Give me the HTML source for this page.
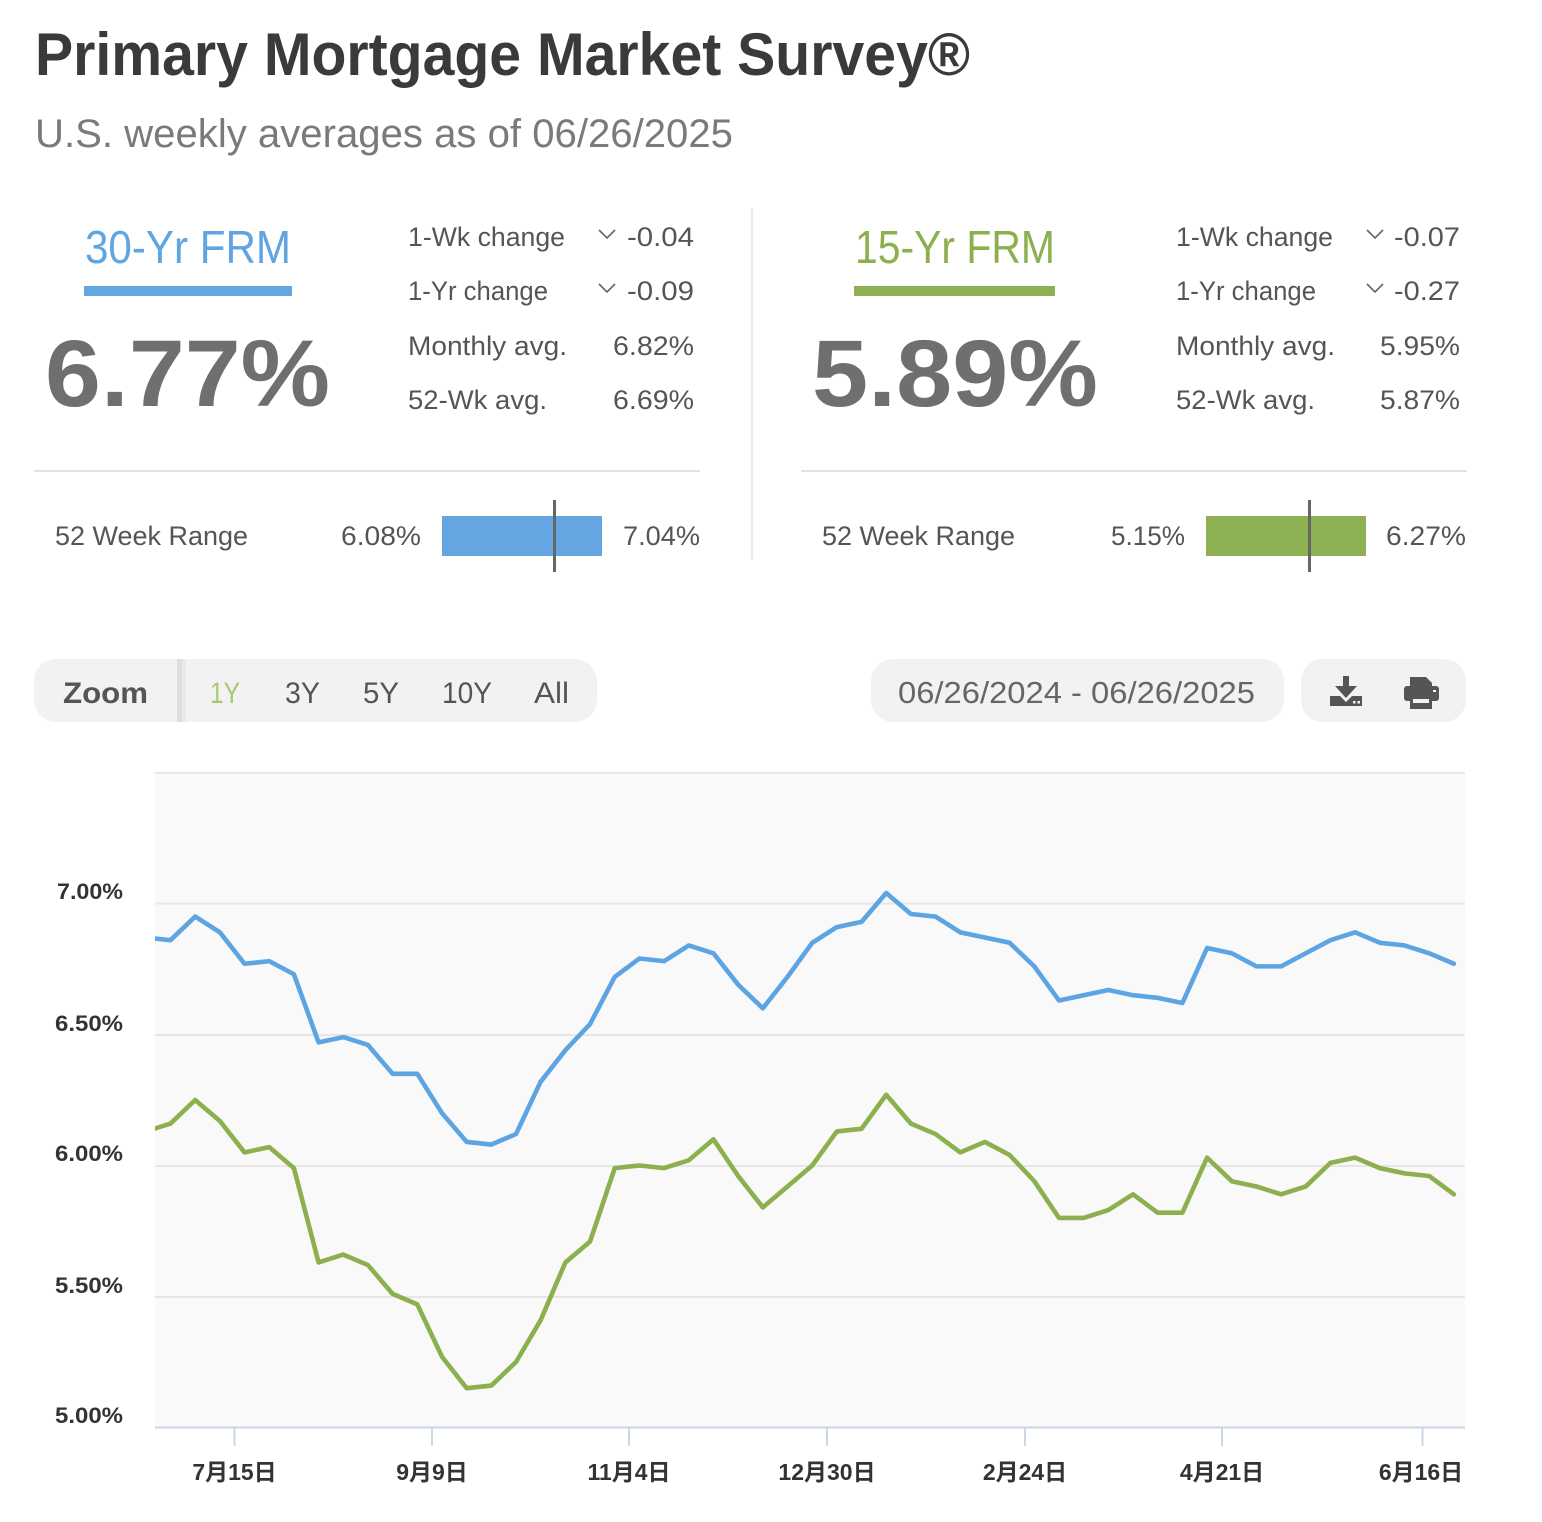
<!DOCTYPE html>
<html>
<head>
<meta charset="utf-8">
<style>
html,body{margin:0;padding:0;background:#fff;}
svg{display:block;}
text{font-family:"Liberation Sans","Noto Sans CJK SC",sans-serif;}
</style>
</head>
<body>
<svg width="1542" height="1522" viewBox="0 0 1542 1522" xmlns="http://www.w3.org/2000/svg">
<rect x="0" y="0" width="1542" height="1522" fill="#ffffff"/>

<!-- Title -->
<text x="35" y="75" font-size="60" font-weight="bold" fill="#3a3a3a" textLength="935" lengthAdjust="spacingAndGlyphs">Primary Mortgage Market Survey®</text>
<text x="35" y="147" font-size="40" fill="#7a7a7a" textLength="698" lengthAdjust="spacingAndGlyphs">U.S. weekly averages as of 06/26/2025</text>

<!-- Left panel: 30-Yr -->
<text x="85" y="263" font-size="46" fill="#5ea5e2" textLength="206" lengthAdjust="spacingAndGlyphs">30-Yr FRM</text>
<rect x="84" y="286" width="208" height="10" fill="#63a6e2"/>
<text x="45" y="406" font-size="95" font-weight="bold" fill="#6f6f6f" textLength="285" lengthAdjust="spacingAndGlyphs">6.77%</text>

<g font-size="27" fill="#555">
<text x="408" y="246" textLength="157" lengthAdjust="spacingAndGlyphs">1-Wk change</text>
<text x="408" y="300" textLength="140" lengthAdjust="spacingAndGlyphs">1-Yr change</text>
<text x="408" y="355" textLength="159" lengthAdjust="spacingAndGlyphs">Monthly avg.</text>
<text x="408" y="409" textLength="139" lengthAdjust="spacingAndGlyphs">52-Wk avg.</text>
<text x="627" y="246" textLength="67" lengthAdjust="spacingAndGlyphs">-0.04</text>
<text x="627" y="300" textLength="67" lengthAdjust="spacingAndGlyphs">-0.09</text>
<text x="613" y="355" textLength="81" lengthAdjust="spacingAndGlyphs">6.82%</text>
<text x="613" y="409" textLength="81" lengthAdjust="spacingAndGlyphs">6.69%</text>
</g>
<polyline points="599,230 607,238 615,230" fill="none" stroke="#666" stroke-width="1.6"/>
<polyline points="599,284 607,292 615,284" fill="none" stroke="#666" stroke-width="1.6"/>

<rect x="34" y="470" width="666" height="2" fill="#e2e2e2"/>

<g font-size="27" fill="#555">
<text x="55" y="545" textLength="193" lengthAdjust="spacingAndGlyphs">52 Week Range</text>
<text x="341" y="545" textLength="80" lengthAdjust="spacingAndGlyphs">6.08%</text>
<text x="623" y="545" textLength="77" lengthAdjust="spacingAndGlyphs">7.04%</text>
</g>
<rect x="442" y="516" width="160" height="40" fill="#63a6e2"/>
<rect x="553" y="500" width="3" height="72" fill="#666"/>

<!-- separator -->
<rect x="751" y="208" width="2" height="352" fill="#ebebeb"/>

<!-- Right panel: 15-Yr -->
<text x="855" y="263" font-size="46" fill="#8cb04d" textLength="200" lengthAdjust="spacingAndGlyphs">15-Yr FRM</text>
<rect x="854" y="286" width="201" height="10" fill="#8db052"/>
<text x="812" y="406" font-size="95" font-weight="bold" fill="#6f6f6f" textLength="286" lengthAdjust="spacingAndGlyphs">5.89%</text>

<g font-size="27" fill="#555">
<text x="1176" y="246" textLength="157" lengthAdjust="spacingAndGlyphs">1-Wk change</text>
<text x="1176" y="300" textLength="140" lengthAdjust="spacingAndGlyphs">1-Yr change</text>
<text x="1176" y="355" textLength="159" lengthAdjust="spacingAndGlyphs">Monthly avg.</text>
<text x="1176" y="409" textLength="139" lengthAdjust="spacingAndGlyphs">52-Wk avg.</text>
<text x="1394" y="246" textLength="66" lengthAdjust="spacingAndGlyphs">-0.07</text>
<text x="1394" y="300" textLength="66" lengthAdjust="spacingAndGlyphs">-0.27</text>
<text x="1380" y="355" textLength="80" lengthAdjust="spacingAndGlyphs">5.95%</text>
<text x="1380" y="409" textLength="80" lengthAdjust="spacingAndGlyphs">5.87%</text>
</g>
<polyline points="1367,230 1375,238 1383,230" fill="none" stroke="#666" stroke-width="1.6"/>
<polyline points="1367,284 1375,292 1383,284" fill="none" stroke="#666" stroke-width="1.6"/>

<rect x="801" y="470" width="666" height="2" fill="#e2e2e2"/>

<g font-size="27" fill="#555">
<text x="822" y="545" textLength="193" lengthAdjust="spacingAndGlyphs">52 Week Range</text>
<text x="1111" y="545" textLength="74" lengthAdjust="spacingAndGlyphs">5.15%</text>
<text x="1386" y="545" textLength="80" lengthAdjust="spacingAndGlyphs">6.27%</text>
</g>
<rect x="1206" y="516" width="160" height="40" fill="#8db052"/>
<rect x="1308" y="500" width="3" height="72" fill="#666"/>

<!-- Zoom bar -->
<rect x="34" y="659" width="563" height="63" rx="22" fill="#f2f2f2"/>
<rect x="177" y="659" width="5" height="63" fill="#dedede"/>
<rect x="182" y="659" width="4" height="63" fill="#e9e9e9"/>
<text x="63" y="703" font-size="30" font-weight="bold" fill="#555" textLength="85" lengthAdjust="spacingAndGlyphs">Zoom</text>
<g font-size="30" fill="#555">
<text x="210" y="703" fill="#a9c872" textLength="30" lengthAdjust="spacingAndGlyphs">1Y</text>
<text x="285" y="703" textLength="35" lengthAdjust="spacingAndGlyphs">3Y</text>
<text x="363" y="703" textLength="36" lengthAdjust="spacingAndGlyphs">5Y</text>
<text x="442" y="703" textLength="50" lengthAdjust="spacingAndGlyphs">10Y</text>
<text x="534" y="703" textLength="35" lengthAdjust="spacingAndGlyphs">All</text>
</g>

<!-- Date range -->
<rect x="871" y="659" width="413" height="63" rx="22" fill="#f2f2f2"/>
<text x="898" y="703" font-size="31" fill="#666" textLength="357" lengthAdjust="spacingAndGlyphs">06/26/2024 - 06/26/2025</text>

<!-- Icons -->
<rect x="1301" y="659" width="165" height="63" rx="22" fill="#f2f2f2"/>
<g fill="#555">
<rect x="1343" y="676" width="6" height="12"/>
<polygon points="1335,686 1357,686 1346,698"/>
<path d="M1330,696 h10 l6,6 l6,-6 h10 v10 h-32 z"/>
</g>
<rect x="1353" y="701" width="2.5" height="2.5" fill="#f2f2f2"/>
<rect x="1357.5" y="701" width="2.5" height="2.5" fill="#f2f2f2"/>
<g fill="#555">
<path d="M1410,677 h16 l6,6 v5 h-22 z"/>
<rect x="1404" y="686" width="35" height="15" rx="3"/>
<rect x="1410" y="697" width="22" height="12"/>
</g>
<rect x="1413" y="699" width="16" height="4" fill="#f2f2f2"/>
<rect x="1433" y="690" width="3" height="2" fill="#f2f2f2"/>

<!-- Chart -->
<rect x="155" y="773" width="1310" height="654" fill="#f9f9f9"/>
<g fill="#e6e6e6">
<rect x="155" y="772" width="1310" height="2"/>
<rect x="155" y="902.5" width="1310" height="2"/>
<rect x="155" y="1034" width="1310" height="2"/>
<rect x="155" y="1165" width="1310" height="2"/>
<rect x="155" y="1296" width="1310" height="2"/>
</g>
<rect x="155" y="1426.5" width="1310" height="2" fill="#ccd6eb"/>
<g fill="#ccd6eb">
<rect x="233.5" y="1427" width="2" height="19"/>
<rect x="431" y="1427" width="2" height="19"/>
<rect x="628" y="1427" width="2" height="19"/>
<rect x="826" y="1427" width="2" height="19"/>
<rect x="1024" y="1427" width="2" height="19"/>
<rect x="1221" y="1427" width="2" height="19"/>
<rect x="1421.5" y="1427" width="2" height="19"/>
</g>

<g font-size="22" font-weight="bold" fill="#333">
<text x="57" y="899" textLength="66" lengthAdjust="spacingAndGlyphs">7.00%</text>
<text x="55" y="1031" textLength="68" lengthAdjust="spacingAndGlyphs">6.50%</text>
<text x="55" y="1161" textLength="68" lengthAdjust="spacingAndGlyphs">6.00%</text>
<text x="55" y="1293" textLength="68" lengthAdjust="spacingAndGlyphs">5.50%</text>
<text x="55" y="1423" textLength="68" lengthAdjust="spacingAndGlyphs">5.00%</text>
</g>

<g font-size="23" font-weight="bold" fill="#333" text-anchor="middle">
<text x="234.5" y="1480">7月15日</text>
<text x="432" y="1480">9月9日</text>
<text x="629" y="1480">11月4日</text>
<text x="827" y="1480">12月30日</text>
<text x="1025" y="1480">2月24日</text>
<text x="1222" y="1480">4月21日</text>
<text x="1421" y="1480">6月16日</text>
</g>

<defs>
<clipPath id="plot"><rect x="155" y="770" width="1312" height="660"/></clipPath>
</defs>
<g clip-path="url(#plot)" fill="none" stroke-width="4.6" stroke-linejoin="round" stroke-linecap="round">
<polyline stroke="#5da4e2" points="145.82,937.56 170.5,940.18 195.18,916.6 219.86,932.32 244.54,963.76 269.22,961.14 293.9,974.24 318.58,1042.36 343.26,1037.12 367.94,1044.98 392.62,1073.8 417.3,1073.8 441.98,1113.1 466.66,1141.92 491.34,1144.54 516.02,1134.06 540.7,1081.66 565.38,1050.22 590.06,1024.02 614.74,976.86 639.42,958.52 664.1,961.14 688.78,945.42 713.46,953.28 738.14,984.72 762.82,1008.3 787.5,976.86 812.18,942.8 836.86,927.08 861.54,921.84 886.22,893.02 910.9,913.98 935.58,916.6 960.26,932.32 984.94,937.56 1009.62,942.8 1034.3,966.38 1058.98,1000.44 1083.66,995.2 1108.34,989.96 1133.02,995.2 1157.7,997.82 1182.38,1003.06 1207.06,948.04 1231.74,953.28 1256.42,966.38 1281.1,966.38 1305.78,953.28 1330.46,940.18 1355.14,932.32 1379.82,942.8 1404.5,945.42 1429.18,953.28 1453.86,963.76"/>
<polyline stroke="#8cb04e" points="145.82,1131.44 170.5,1123.58 195.18,1100 219.86,1120.96 244.54,1152.4 269.22,1147.16 293.9,1168.12 318.58,1262.44 343.26,1254.58 367.94,1265.06 392.62,1293.88 417.3,1304.36 441.98,1356.76 466.66,1388.2 491.34,1385.58 516.02,1362 540.7,1320.08 565.38,1262.44 590.06,1241.48 614.74,1168.12 639.42,1165.5 664.1,1168.12 688.78,1160.26 713.46,1139.3 738.14,1175.98 762.82,1207.42 787.5,1186.46 812.18,1165.5 836.86,1131.44 861.54,1128.82 886.22,1094.76 910.9,1123.58 935.58,1134.06 960.26,1152.4 984.94,1141.92 1009.62,1155.02 1034.3,1181.22 1058.98,1217.9 1083.66,1217.9 1108.34,1210.04 1133.02,1194.32 1157.7,1212.66 1182.38,1212.66 1207.06,1157.64 1231.74,1181.22 1256.42,1186.46 1281.1,1194.32 1305.78,1186.46 1330.46,1162.88 1355.14,1157.64 1379.82,1168.12 1404.5,1173.36 1429.18,1175.98 1453.86,1194.32"/>
</g>
</svg>
</body>
</html>
